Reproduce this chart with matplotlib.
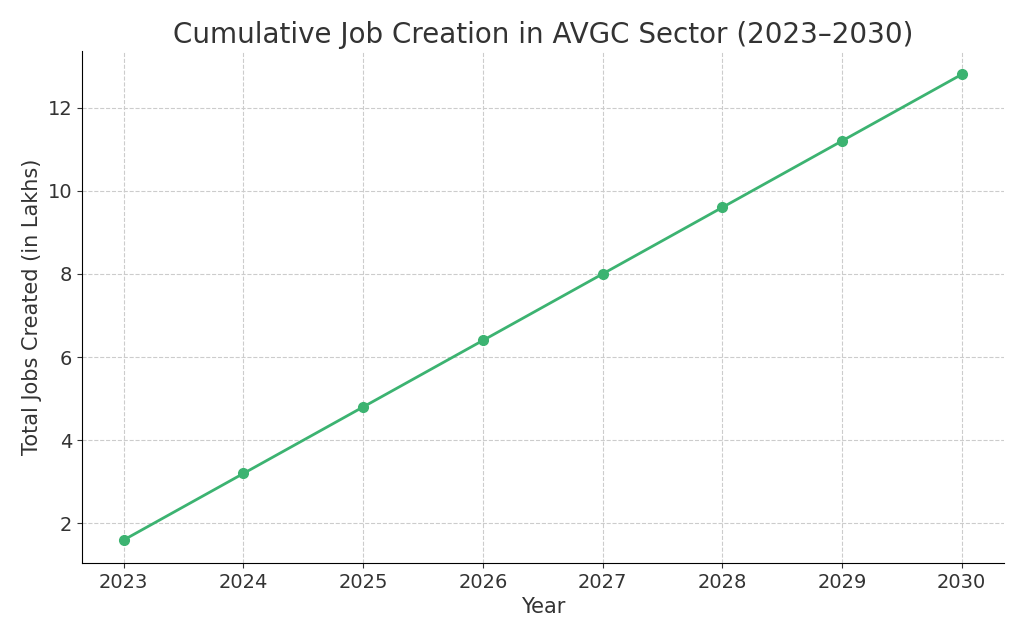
import matplotlib
matplotlib.use("Agg")
import matplotlib.pyplot as plt

years = [2023, 2024, 2025, 2026, 2027, 2028, 2029, 2030]
jobs_lakhs = [1.6, 3.2, 4.8, 6.4, 8.0, 9.6, 11.2, 12.8]

fig, ax = plt.subplots(figsize=(10.24, 6.4), dpi=100)
ax.plot(years, jobs_lakhs, marker="o", color="#3cb371", lw=2, ms=7)
ax.set_title("Cumulative Job Creation in AVGC Sector (2023\u20132030)", fontsize=20, color="#333333")
ax.set_xlabel("Year", fontsize=15, color="#333333")
ax.set_ylabel("Total Jobs Created (in Lakhs)", fontsize=15, color="#333333")
ax.set_xticks(years)
ax.set_yticks([2, 4, 6, 8, 10, 12])
ax.tick_params(labelsize=14, colors="#333333")
ax.grid(True, linestyle="--", color="#cccccc", lw=0.8)
for side in ("top", "right"):
    ax.spines[side].set_visible(False)
fig.subplots_adjust(left=0.08, right=0.98, top=0.92, bottom=0.12)
fig.savefig("out.png", dpi=100)
